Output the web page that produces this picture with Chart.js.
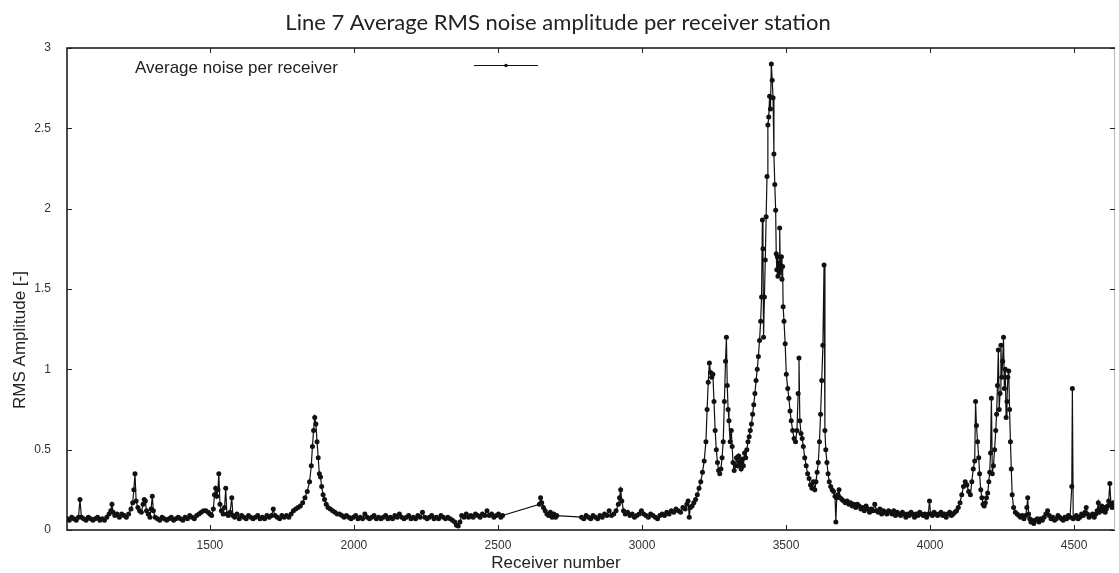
<!DOCTYPE html>
<html>
<head>
<meta charset="utf-8">
<script src="https://cdn.jsdelivr.net/npm/chart.js@4/dist/chart.umd.min.js"></script>
<style>
  html, body { margin: 0; padding: 0; background: #fff; }
  #wrap { width: 1119px; height: 573px; position: relative; }
</style>
</head>
<body>
<div id="wrap"><canvas id="c" width="1119" height="573"></canvas></div>
<script>
const chartTitle = 'Line 7 Average RMS noise amplitude per receiver station';
const xAxisTitle = 'Receiver number';
const yAxisTitle = 'RMS Amplitude [-]';
const seriesName = 'Average noise per receiver';

const xRange = [1004, 4642];
const yRange = [0, 3];
const xTickValues = [1500, 2000, 2500, 3000, 3500, 4000, 4500];
const yTickValues = [0, 0.5, 1, 1.5, 2, 2.5, 3];

const stations = [
  1004,1012,1020,1028,1036,1044,1049,1054,1062,1070,1078,1086,
  1094,1102,1110,1118,1126,1134,1142,1150,1156,1160,1164,1170,
  1178,1186,1194,1202,1210,1218,1226,1232,1236,1240,1244,1250,
  1256,1262,1268,1272,1276,1280,1286,1292,1296,1300,1304,1310,
  1318,1326,1334,1342,1350,1358,1366,1374,1382,1390,1398,1406,
  1414,1422,1430,1438,1446,1454,1462,1470,1478,1486,1494,1500,
  1506,1512,1516,1520,1524,1528,1531,1535,1540,1546,1551,1555,
  1559,1564,1570,1576,1580,1586,1594,1602,1610,1618,1626,1634,
  1642,1650,1658,1666,1674,1682,1690,1698,1706,1714,1720,1726,
  1734,1742,1750,1758,1766,1774,1782,1790,1798,1806,1814,1822,
  1830,1838,1846,1852,1856,1860,1864,1868,1872,1876,1880,1884,
  1888,1893,1898,1904,1910,1918,1926,1934,1942,1950,1958,1966,
  1974,1982,1990,1998,2006,2014,2022,2030,2038,2046,2054,2062,
  2070,2078,2086,2094,2102,2110,2118,2126,2134,2142,2150,2158,
  2166,2174,2182,2190,2198,2206,2214,2222,2230,2238,2246,2254,
  2262,2270,2278,2286,2294,2302,2310,2318,2326,2334,2342,2350,
  2356,2362,2368,2374,2382,2390,2398,2406,2414,2422,2430,2438,
  2446,2454,2462,2470,2478,2486,2494,2502,2510,2516,2644,2648,
  2652,2658,2664,2670,2676,2682,2688,2694,2700,2704,2790,2798,
  2806,2814,2822,2830,2838,2846,2854,2862,2870,2878,2886,2894,
  2902,2910,2918,2922,2926,2930,2936,2942,2950,2958,2966,2974,
  2982,2990,2998,3006,3014,3022,3030,3038,3046,3054,3062,3070,
  3078,3086,3094,3102,3110,3118,3126,3134,3142,3150,3156,3160,
  3164,3168,3174,3180,3186,3192,3198,3204,3210,3216,3222,3226,
  3230,3234,3238,3242,3246,3250,3254,3258,3262,3266,3270,3274,
  3278,3282,3286,3290,3293,3296,3299,3302,3306,3310,3313,3316,
  3320,3324,3328,3332,3336,3340,3344,3348,3352,3356,3360,3364,
  3368,3372,3376,3380,3384,3388,3392,3396,3400,3404,3408,3412,
  3415,3418,3420,3422,3425,3428,3431,3434,3437,3440,3443,3446,
  3449,3452,3455,3458,3461,3464,3466,3468,3470,3472,3474,3476,
  3478,3480,3482,3484,3486,3488,3490,3493,3497,3501,3506,3510,
  3514,3518,3523,3528,3533,3538,3542,3545,3548,3552,3556,3560,
  3565,3570,3575,3580,3585,3590,3595,3600,3604,3608,3612,3616,
  3620,3624,3628,3632,3635,3638,3642,3646,3650,3655,3660,3665,
  3670,3673,3676,3680,3684,3688,3694,3700,3706,3712,3718,3724,
  3730,3736,3742,3748,3754,3760,3766,3772,3778,3784,3790,3796,
  3802,3808,3814,3820,3826,3832,3838,3844,3850,3856,3862,3868,
  3874,3880,3886,3892,3898,3904,3910,3916,3922,3928,3934,3940,
  3946,3952,3958,3964,3970,3976,3982,3988,3994,3998,4002,4008,
  4014,4020,4026,4032,4038,4044,4050,4056,4062,4068,4074,4080,
  4086,4092,4098,4104,4110,4116,4122,4128,4134,4140,4145,4150,
  4155,4158,4161,4165,4169,4172,4176,4180,4184,4188,4192,4196,
  4200,4204,4207,4210,4213,4216,4220,4224,4228,4231,4234,4237,
  4240,4243,4246,4249,4252,4255,4258,4261,4264,4267,4270,4273,
  4276,4279,4282,4285,4290,4296,4302,4308,4314,4320,4326,4332,
  4336,4339,4342,4346,4350,4354,4360,4366,4372,4378,4384,4390,
  4396,4402,4408,4414,4420,4426,4432,4438,4444,4450,4456,4462,
  4468,4474,4480,4486,4492,4494,4497,4502,4508,4514,4520,4526,
  4532,4538,4542,4546,4552,4558,4564,4570,4576,4580,4584,4588,
  4592,4596,4600,4604,4608,4612,4616,4620,4624,4628,4632,4636,
  4640,4644
];

const avgNoise = [
  0.07,0.06,0.08,0.07,0.06,0.08,0.19,0.08,0.07,0.06,0.08,0.07,
  0.06,0.07,0.08,0.06,0.07,0.06,0.08,0.10,0.12,0.16,0.11,0.09,
  0.10,0.08,0.10,0.09,0.08,0.10,0.13,0.17,0.25,0.35,0.18,0.14,
  0.12,0.11,0.16,0.19,0.18,0.12,0.10,0.08,0.13,0.21,0.12,0.08,
  0.07,0.06,0.08,0.07,0.06,0.07,0.08,0.06,0.07,0.08,0.07,0.06,
  0.08,0.07,0.09,0.08,0.07,0.09,0.10,0.11,0.12,0.12,0.11,0.10,
  0.09,0.13,0.22,0.26,0.21,0.25,0.35,0.16,0.12,0.10,0.14,0.26,
  0.10,0.09,0.11,0.20,0.09,0.08,0.10,0.07,0.09,0.08,0.07,0.09,
  0.08,0.07,0.08,0.09,0.07,0.08,0.07,0.09,0.08,0.09,0.13,0.09,
  0.08,0.07,0.09,0.08,0.09,0.08,0.10,0.12,0.13,0.14,0.15,0.17,
  0.20,0.24,0.30,0.40,0.52,0.62,0.70,0.66,0.55,0.45,0.35,0.33,
  0.27,0.22,0.19,0.16,0.14,0.13,0.12,0.11,0.10,0.10,0.09,0.08,
  0.09,0.08,0.07,0.08,0.09,0.07,0.08,0.07,0.10,0.08,0.07,0.08,
  0.09,0.07,0.08,0.07,0.08,0.09,0.07,0.08,0.07,0.09,0.08,0.10,
  0.08,0.07,0.08,0.09,0.07,0.08,0.07,0.09,0.08,0.11,0.08,0.07,
  0.08,0.09,0.07,0.08,0.07,0.09,0.08,0.07,0.08,0.07,0.06,0.05,
  0.03,0.025,0.05,0.09,0.08,0.10,0.08,0.09,0.08,0.10,0.09,0.08,
  0.10,0.09,0.12,0.09,0.10,0.08,0.09,0.10,0.08,0.09,0.16,0.20,
  0.17,0.14,0.12,0.10,0.09,0.11,0.08,0.10,0.08,0.09,0.08,0.07,
  0.09,0.08,0.07,0.09,0.08,0.07,0.09,0.08,0.10,0.09,0.12,0.09,
  0.10,0.12,0.16,0.20,0.25,0.18,0.12,0.10,0.11,0.09,0.10,0.08,
  0.09,0.10,0.12,0.10,0.09,0.08,0.10,0.09,0.08,0.07,0.09,0.10,
  0.09,0.11,0.10,0.12,0.11,0.13,0.12,0.11,0.14,0.13,0.16,0.18,
  0.08,0.14,0.15,0.17,0.19,0.22,0.26,0.30,0.36,0.43,0.55,0.75,
  0.92,1.04,0.98,0.95,0.97,0.80,0.62,0.50,0.42,0.37,0.35,0.38,
  0.45,0.55,0.80,1.05,1.20,0.90,0.75,0.68,0.55,0.62,0.52,0.42,
  0.37,0.40,0.45,0.40,0.46,0.42,0.38,0.44,0.40,0.48,0.45,0.50,
  0.55,0.58,0.62,0.66,0.72,0.78,0.85,0.93,1.00,1.08,1.18,1.30,
  1.45,1.93,1.75,1.20,1.45,1.68,1.95,2.20,2.52,2.57,2.70,2.62,
  2.90,2.80,2.69,2.34,2.15,1.99,1.72,1.62,1.70,1.58,1.66,1.60,
  1.88,1.65,1.62,1.70,1.56,1.64,1.39,1.30,1.16,0.97,0.88,0.82,
  0.74,0.68,0.62,0.57,0.55,0.62,0.85,1.07,0.68,0.60,0.57,0.52,
  0.45,0.40,0.35,0.32,0.28,0.26,0.30,0.25,0.30,0.36,0.42,0.55,
  0.72,0.93,1.15,1.65,0.62,0.50,0.42,0.35,0.30,0.27,0.25,0.24,
  0.21,0.05,0.20,0.22,0.25,0.20,0.19,0.18,0.17,0.18,0.16,0.17,
  0.15,0.16,0.14,0.16,0.15,0.13,0.14,0.12,0.15,0.13,0.11,0.13,
  0.12,0.16,0.12,0.11,0.13,0.10,0.12,0.11,0.10,0.12,0.11,0.10,
  0.12,0.09,0.11,0.10,0.09,0.11,0.10,0.08,0.10,0.09,0.11,0.10,
  0.08,0.10,0.09,0.11,0.10,0.09,0.10,0.08,0.10,0.18,0.10,0.09,
  0.11,0.10,0.09,0.10,0.11,0.09,0.10,0.08,0.10,0.11,0.09,0.10,
  0.11,0.12,0.14,0.17,0.22,0.27,0.30,0.28,0.24,0.22,0.30,0.38,
  0.43,0.80,0.65,0.55,0.45,0.35,0.25,0.20,0.16,0.15,0.17,0.20,
  0.23,0.30,0.36,0.48,0.82,0.35,0.40,0.50,0.62,0.72,0.90,1.12,
  0.75,0.85,1.15,0.95,1.05,1.20,0.88,1.00,0.70,0.80,0.95,0.99,
  0.75,0.55,0.38,0.22,0.14,0.11,0.10,0.09,0.08,0.09,0.07,0.09,
  0.14,0.20,0.10,0.07,0.05,0.06,0.04,0.06,0.07,0.05,0.07,0.06,
  0.08,0.10,0.12,0.09,0.07,0.08,0.06,0.07,0.09,0.08,0.07,0.06,
  0.08,0.07,0.09,0.08,0.27,0.88,0.07,0.08,0.09,0.07,0.08,0.10,
  0.09,0.11,0.14,0.10,0.08,0.09,0.10,0.08,0.10,0.12,0.17,0.11,
  0.13,0.15,0.12,0.14,0.11,0.13,0.15,0.18,0.29,0.16,0.14,0.17,
  0.15,0.16
];

const points = stations.map((s, i) => ({ x: s, y: avgNoise[i] }));

const AXIS_FONT = '"Liberation Sans", Arial, sans-serif';

const frameAndLabels = {
  id: 'frameAndLabels',
  afterDraw(chart) {
    const { ctx, chartArea: a, scales } = chart;
    const xs = scales.x, ys = scales.y;
    ctx.save();
    ctx.strokeStyle = '#111';
    ctx.lineWidth = 1.5;
    ctx.beginPath();
    ctx.moveTo(a.right, a.top);
    ctx.lineTo(a.left, a.top);
    ctx.lineTo(a.left, a.bottom);
    ctx.lineTo(a.right, a.bottom);
    ctx.stroke();
    ctx.strokeStyle = '#bbb';
    ctx.lineWidth = 1;
    ctx.beginPath();
    ctx.moveTo(a.right - 0.5, a.top);
    ctx.lineTo(a.right - 0.5, a.bottom);
    ctx.stroke();
    ctx.strokeStyle = '#222';
    ctx.lineWidth = 1;
    ctx.beginPath();
    xs.ticks.forEach(t => {
      const px = Math.round(xs.getPixelForValue(t.value)) + 0.5;
      ctx.moveTo(px, a.bottom); ctx.lineTo(px, a.bottom - 5);
      ctx.moveTo(px, a.top); ctx.lineTo(px, a.top + 5);
    });
    ys.ticks.forEach(t => {
      const py = Math.round(ys.getPixelForValue(t.value)) + 0.5;
      ctx.moveTo(a.left, py); ctx.lineTo(a.left + 5, py);
      ctx.moveTo(a.right, py); ctx.lineTo(a.right - 5, py);
    });
    ctx.stroke();
    ctx.fillStyle = '#222';
    ctx.font = '17px ' + AXIS_FONT;
    ctx.textAlign = 'center';
    ctx.textBaseline = 'middle';
    ctx.fillText(xAxisTitle, 556, 563);
    ctx.save();
    ctx.translate(20, 340);
    ctx.rotate(-Math.PI / 2);
    ctx.fillText(yAxisTitle, 0, 0);
    ctx.restore();
    const ds = chart.data.datasets[0];
    ctx.textAlign = 'left';
    ctx.fillText(ds.label, 135, 68);
    ctx.strokeStyle = ds.borderColor;
    ctx.lineWidth = 1;
    ctx.beginPath();
    ctx.moveTo(474, 65.5); ctx.lineTo(538, 65.5);
    ctx.stroke();
    ctx.fillStyle = ds.pointBackgroundColor;
    ctx.beginPath();
    ctx.arc(506, 65.5, 1.8, 0, Math.PI * 2);
    ctx.fill();
    ctx.restore();
  }
};

new Chart(document.getElementById('c'), {
  type: 'scatter',
  data: {
    datasets: [{
      label: seriesName,
      data: points,
      showLine: true,
      borderColor: '#111',
      borderWidth: 1.2,
      pointRadius: 2.5,
      pointBorderWidth: 0,
      pointBackgroundColor: '#111',
      tension: 0
    }]
  },
  options: {
    responsive: false,
    animation: false,
    layout: { padding: { left: 0, right: 3, top: 0, bottom: 0 } },
    plugins: {
      legend: { display: false },
      tooltip: { enabled: false },
      title: {
        display: true,
        text: chartTitle,
        color: '#222',
        font: { family: 'Lato, "Open Sans", sans-serif', size: 22, weight: 'normal' },
        padding: { top: 10, bottom: 11.6 }
      }
    },
    scales: {
      x: {
        type: 'linear',
        min: xRange[0],
        max: xRange[1],
        grid: { display: false, drawTicks: false },
        border: { display: false },
        afterBuildTicks: s => { s.ticks = xTickValues.map(v => ({ value: v })); },
        ticks: {
          autoSkip: false,
          maxRotation: 0,
          padding: 8,
          color: '#333',
          font: { family: AXIS_FONT, size: 12 },
          callback: v => String(v)
        },
        afterFit: s => { s.height = 43; }
      },
      y: {
        type: 'linear',
        min: yRange[0],
        max: yRange[1],
        grid: { display: false, drawTicks: false },
        border: { display: false },
        afterBuildTicks: s => { s.ticks = yTickValues.map(v => ({ value: v })); },
        ticks: {
          autoSkip: false,
          padding: 16,
          color: '#333',
          font: { family: AXIS_FONT, size: 12 },
          callback: v => String(v)
        },
        afterFit: s => { s.width = 67; }
      }
    }
  },
  plugins: [frameAndLabels]
});
</script>
</body>
</html>
